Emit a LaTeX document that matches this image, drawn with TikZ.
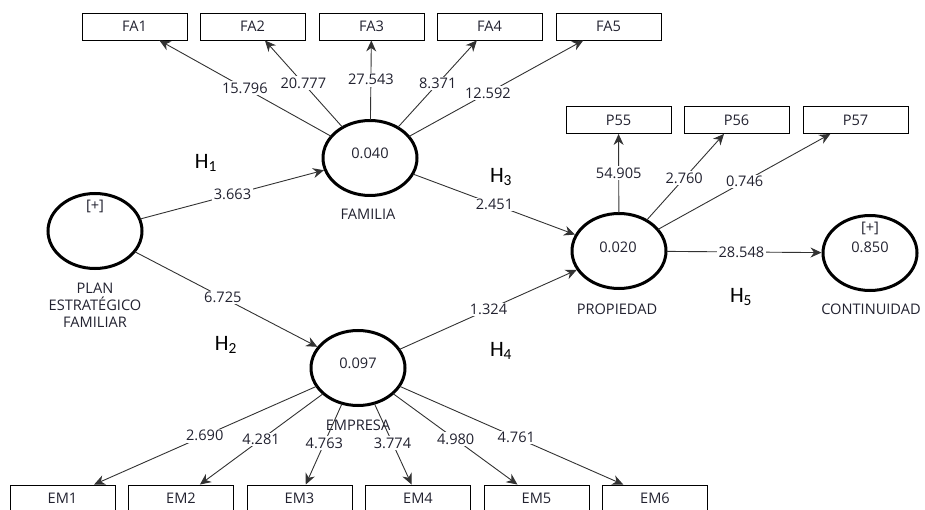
\documentclass[tikz,border=0pt]{standalone}
\usepackage{fontspec}
\setmainfont{Open Sans}
\newfontfamily\hypfont{Carlito}
\usetikzlibrary{arrows.meta, positioning, shapes.geometric}
\definecolor{txtc}{RGB}{34,34,48}
\definecolor{linec}{RGB}{50,50,50}

\begin{document}
\begin{tikzpicture}[
          x=1pt, y=-1pt,
          >=Stealth,
          font=\fontsize{14.6}{17}\selectfont,
          every node/.style={text=txtc},
          latent/.style={ellipse, draw=black, line width=3pt, minimum width=94pt, minimum height=75pt, inner sep=0pt},
          indic/.style={rectangle, draw=black, line width=0.9pt, minimum width=105pt, minimum height=27pt, inner sep=0pt},
          conn/.style={->, draw=linec, line width=0.9pt, shorten <=-1pt, >={Stealth[length=11pt, width=10pt]}},
          coef/.style={fill=white, inner sep=1.5pt, pos=0.5},
          hyp/.style={font=\hypfont\fontsize{22}{24}\selectfont, text=black}
        ]
        \useasboundingbox (0,0) rectangle (925,510);
        % constructs
        \node [latent] (plan) at (95,231) {};
        \node [latent] (fam) at (370,158) {};
        \node [latent] (emp) at (358,368) {};
        \node [latent] (prop) at (619,251) {};
        \node [latent] (cont) at (870,253) {};
        \node at (95,206) {[+]};
        \node at (370,153) {0.040};
        \node at (358,363) {0.097};
        \node at (618,247) {0.020};
        \node at (870,228) {[+]};
        \node at (870,247) {0.850};
        \node [align=center] (planlbl) at (95,305) {PLAN\\ESTRATÉGICO\\FAMILIAR};
        \node (famlbl) at (368,214) {FAMILIA};
        \node (emplbl) at (358,425) {EMPRESA};
        \node (proplbl) at (617,309) {PROPIEDAD};
        \node (contlbl) at (871,309) {CONTINUIDAD};
        % indicators
        \node [indic] (fa1) at (134.5,26.5) {FA1};
        \node [indic] (fa2) at (252.5,26.5) {FA2};
        \node [indic] (fa3) at (371.5,26.5) {FA3};
        \node [indic] (fa4) at (489.5,26.5) {FA4};
        \node [indic] (fa5) at (608.5,26.5) {FA5};
        \node [indic] (p55) at (618.5,120) {P55};
        \node [indic] (p56) at (736.5,120) {P56};
        \node [indic] (p57) at (855.5,120) {P57};
        \node [indic] (em1) at (62.5,498.5) {EM1};
        \node [indic] (em2) at (181,498.5) {EM2};
        \node [indic] (em3) at (299.5,498.5) {EM3};
        \node [indic] (em4) at (418,498.5) {EM4};
        \node [indic] (em5) at (536.5,498.5) {EM5};
        \node [indic] (em6) at (655,498.5) {EM6};
        % outer loadings
        \draw [conn] (fam) -- node [coef] {15.796} (fa1);
        \draw [conn] (fam) -- node [coef] {20.777} (fa2);
        \draw [conn] (fam) -- node [coef] {27.543} (fa3);
        \draw [conn] (fam) -- node [coef] {8.371} (fa4);
        \draw [conn] (fam) -- node [coef, pos=0.45] {12.592} (fa5);
        \draw [conn] (prop) -- node [coef] {54.905} (p55);
        \draw [conn] (prop) -- node [coef, pos=0.48] {2.760} (p56);
        \draw [conn] (prop) -- node [coef] {0.746} (p57);
        \draw [conn] (emp) -- node [coef] {2.690} (em1);
        \draw [conn] (emp) -- node [coef] {4.281} (em2);
        \draw [conn] (emp) -- node [coef, pos=0.48] {4.763} (em3);
        \draw [conn] (emp) -- node [coef, pos=0.48] {3.774} (em4);
        \draw [conn] (emp) -- node [coef] {4.980} (em5);
        \draw [conn] (emp) -- node [coef, pos=0.52] {4.761} (em6);
        % structural paths
        \draw [conn] (plan) -- node [coef] {3.663} (fam);
        \draw [conn] (plan) -- node [coef, pos=0.48] {6.725} (emp);
        \draw [conn] (fam) -- node [coef] {2.451} (prop);
        \draw [conn] (emp) -- node [coef] {1.324} (prop);
        \draw [conn] (prop) -- node [coef, pos=0.48] {28.548} (cont);
        % hypotheses
        \node [hyp] (h1) at (206,163) {H\textsubscript{1}};
        \node [hyp] (h2) at (226,345) {H\textsubscript{2}};
        \node [hyp] (h3) at (501,177) {H\textsubscript{3}};
        \node [hyp] (h4) at (501,351) {H\textsubscript{4}};
        \node [hyp] (h5) at (741,297) {H\textsubscript{5}};
\end{tikzpicture}
\end{document}
